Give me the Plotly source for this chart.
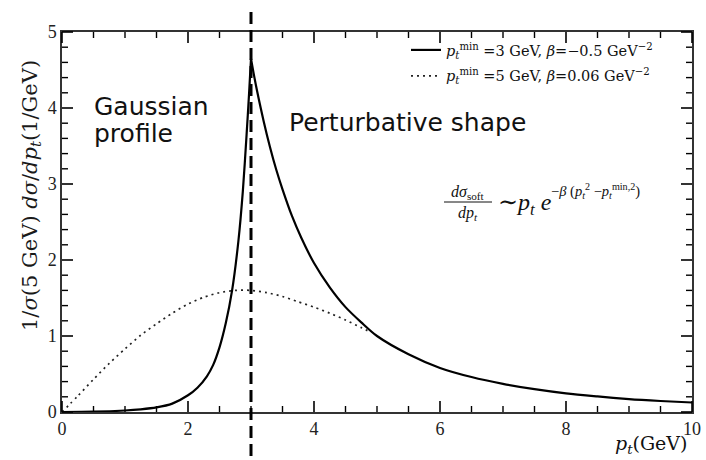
import plotly.graph_objects as go

# Solid curve, p_t^min = 3 GeV, beta = -0.5 GeV^-2 (Gaussian side, then perturbative tail)
pt_gauss = [0.0, 0.5, 1.0, 1.25, 1.5, 1.75, 2.0, 2.15, 2.3, 2.4, 2.5, 2.6, 2.7, 2.8,
            2.87, 2.93, 2.97, 3.0]
val_gauss = [0.0, 0.004, 0.02, 0.035, 0.06, 0.11, 0.22, 0.32, 0.47, 0.62, 0.85, 1.17,
             1.6, 2.25, 2.9, 3.65, 4.2, 4.65]
pt_tail = [3.0, 3.05, 3.1, 3.2, 3.3, 3.4, 3.5, 3.65, 3.8, 4.0, 4.25, 4.5, 4.75, 5.0,
           5.5, 6.0, 6.5, 7.0, 7.5, 8.0, 8.5, 9.0, 9.5, 10.0]
val_tail = [4.65, 4.42, 4.21, 3.83, 3.49, 3.19, 2.93, 2.58, 2.29, 1.96, 1.64, 1.38,
            1.18, 1.0, 0.76, 0.58, 0.46, 0.37, 0.3, 0.245, 0.205, 0.17, 0.145, 0.125]

# Dotted curve, p_t^min = 5 GeV, beta = 0.06 GeV^-2
pt_dot = [0.0, 0.25, 0.5, 0.75, 1.0, 1.25, 1.5, 1.75, 2.0, 2.25, 2.5, 2.75, 3.0,
          3.25, 3.5, 3.75, 4.0, 4.25, 4.5, 4.75, 4.9]
val_dot = [0.0, 0.21, 0.43, 0.64, 0.83, 1.01, 1.16, 1.3, 1.42, 1.51, 1.57, 1.6, 1.6,
           1.57, 1.52, 1.45, 1.38, 1.3, 1.21, 1.11, 1.05]

ptmin_split = 3.0
x_range = [0, 10]
y_range = [0, 5]
x_ticks = [0, 2, 4, 6, 8, 10]
y_ticks = [0, 1, 2, 3, 4, 5]
x_minor_step = 0.5
y_minor_step = 0.2

label_solid = "<i>p</i><sub><i>t</i></sub><sup>min</sup> =3 GeV, <i>β</i>=−0.5 GeV<sup>−2</sup>"
label_dot = "<i>p</i><sub><i>t</i></sub><sup>min</sup> =5 GeV, <i>β</i>=0.06 GeV<sup>−2</sup>"

SERIF = "Liberation Serif, DejaVu Serif, serif"
WIDE_SERIF = "DejaVu Serif, serif"
SANS = "DejaVu Sans, sans-serif"

W, H = 706, 460
ML, MR, MT, MB = 62, 14, 32, 48
PW, PH = W - ML - MR, H - MT - MB
MAJOR_LEN, MINOR_LEN = 11, 6
TICK_COLOR = "#000"


def px(x):
    return (x - ML) / PW


def py(y):
    return (H - MB - y) / PH


fig = go.Figure()
fig.add_trace(go.Scatter(x=pt_gauss, y=val_gauss, mode="lines", name=label_solid,
                         legendgroup="solid", showlegend=True,
                         line=dict(color="black", width=2.2, shape="spline", smoothing=0.8)))
fig.add_trace(go.Scatter(x=pt_tail, y=val_tail, mode="lines", name=label_solid,
                         legendgroup="solid", showlegend=False,
                         line=dict(color="black", width=2.2, shape="spline", smoothing=0.8)))
fig.add_trace(go.Scatter(x=pt_dot, y=val_dot, mode="lines", name=label_dot,
                         line=dict(color="#222", width=1.7, dash="2px,4px",
                                   shape="spline", smoothing=0.8)))

# vertical marker at the matching point p_t = 3 GeV
xs = (ptmin_split - x_range[0]) / (x_range[1] - x_range[0])
fig.add_shape(type="line", xref="paper", yref="paper", x0=xs, x1=xs,
              y0=py(456), y1=py(6),
              line=dict(color="black", width=3, dash="12px,6px"))


# inward tick marks on all four sides of the frame, drawn in paper space
def frange(lo, hi, step):
    n = int(round((hi - lo) / step))
    return [lo + i * step for i in range(n + 1)]


def xfrac(v):
    return (v - x_range[0]) / (x_range[1] - x_range[0])


def yfrac(v):
    return (v - y_range[0]) / (y_range[1] - y_range[0])


x_minor_vals = [v for v in frange(x_range[0], x_range[1], x_minor_step)
                if all(abs(v - t) > 1e-9 for t in x_ticks)]
y_minor_vals = [v for v in frange(y_range[0], y_range[1], y_minor_step)
                if all(abs(v - t) > 1e-9 for t in y_ticks)]

tick_shapes = []
for vals, length, width in ((x_ticks, MAJOR_LEN, 1.6), (x_minor_vals, MINOR_LEN, 1.4)):
    for v in vals:
        for y0, y1 in ((0, length / PH), (1, 1 - length / PH)):
            tick_shapes.append(dict(type="line", xref="paper", yref="paper",
                                    x0=xfrac(v), x1=xfrac(v), y0=y0, y1=y1, layer="above",
                                    line=dict(color=TICK_COLOR, width=width)))
for vals, length, width in ((y_ticks, MAJOR_LEN, 1.6), (y_minor_vals, MINOR_LEN, 1.4)):
    for v in vals:
        for x0, x1 in ((0, length / PW), (1, 1 - length / PW)):
            tick_shapes.append(dict(type="line", xref="paper", yref="paper",
                                    x0=x0, x1=x1, y0=yfrac(v), y1=yfrac(v), layer="above",
                                    line=dict(color=TICK_COLOR, width=width)))
for s in tick_shapes:
    fig.add_shape(**s)

annotations = [
    dict(text="Gaussian", x=px(92), y=py(107), xanchor="left", yanchor="middle",
         font=dict(family=SANS, size=25, color="#111")),
    dict(text="profile", x=px(92), y=py(133), xanchor="left", yanchor="middle",
         font=dict(family=SANS, size=25, color="#111")),
    dict(text="Perturbative shape", x=px(287), y=py(123), xanchor="left", yanchor="middle",
         font=dict(family=SANS, size=25, color="#111")),
    # formula
    dict(text="<i>dσ</i><sub>soft</sub>", x=px(468), y=py(192), xanchor="center",
         yanchor="middle", font=dict(family=SERIF, size=16, color="#111")),
    dict(text="<i>dp<sub>t</sub></i>", x=px(468), y=py(213), xanchor="center",
         yanchor="middle", font=dict(family=SERIF, size=16, color="#111")),
    dict(text="∼<i>p<sub>t</sub></i> <i>e</i>", x=px(496), y=py(204), xanchor="left",
         yanchor="middle", font=dict(family=SERIF, size=24, color="#111")),
    dict(text="−<i>β</i> (<i>p<sub>t</sub></i><sup>2</sup> −<i>p<sub>t</sub></i><sup>min,2</sup>)",
         x=px(549), y=py(191), xanchor="left", yanchor="middle",
         font=dict(family=SERIF, size=14.5, color="#111")),
    # axis titles
    dict(text="1/<i>σ</i>(5 GeV) <i>dσ</i>/<i>dp<sub>t</sub></i>(1/GeV)", x=px(31), y=py(196),
         xanchor="center", yanchor="middle", textangle=-90,
         font=dict(family=WIDE_SERIF, size=21, color="#1a1a1a")),
    dict(text="<i>p<sub>t</sub></i>(GeV)", x=px(689), y=py(444), xanchor="right",
         yanchor="middle", font=dict(family=WIDE_SERIF, size=19, color="#111")),
]
for a in annotations:
    a.update(xref="paper", yref="paper", showarrow=False)
fig.update_layout(annotations=annotations)

fig.add_shape(type="line", xref="paper", yref="paper", x0=px(444), x1=px(492),
              y0=py(202), y1=py(202), line=dict(color="#111", width=1))

axis_common = dict(showline=True, linecolor="#333", linewidth=1.5, mirror=True,
                   ticks="", showgrid=False, zeroline=False, automargin=False,
                   tickfont=dict(family=SERIF, size=18, color="#222"))
fig.update_xaxes(range=x_range, tickmode="array", tickvals=x_ticks, **axis_common)
fig.update_yaxes(range=y_range, tickmode="array", tickvals=y_ticks, **axis_common)

fig.update_layout(
    width=W, height=H,
    margin=dict(l=ML, r=MR, t=MT, b=MB),
    paper_bgcolor="white", plot_bgcolor="white",
    legend=dict(x=px(406), y=py(34), xanchor="left", yanchor="top",
                bgcolor="rgba(0,0,0,0)", font=dict(family=WIDE_SERIF, size=14.5, color="#111"),
                itemwidth=30, tracegroupgap=4),
)

fig.write_html("out.html")
